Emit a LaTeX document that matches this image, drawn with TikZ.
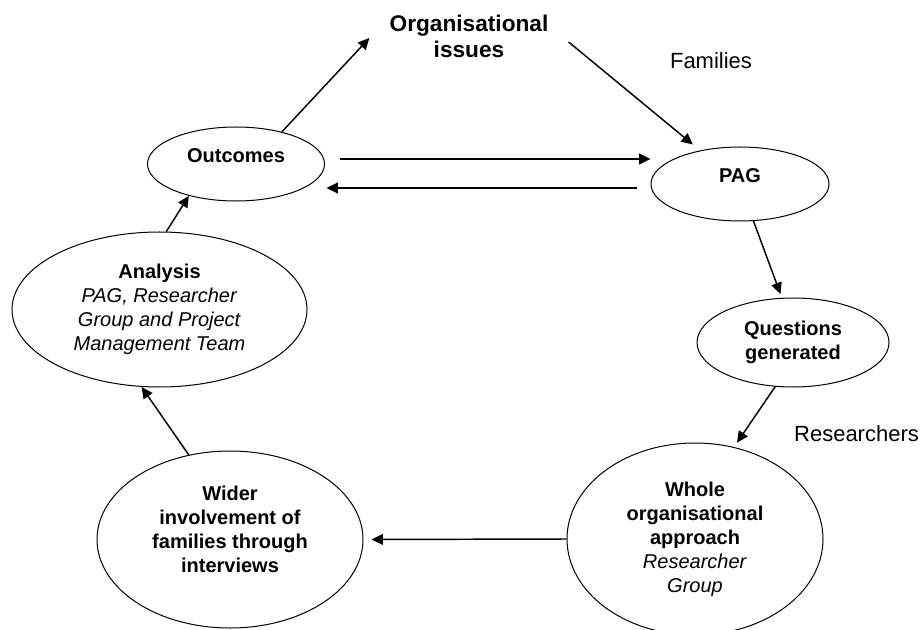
\documentclass[tikz,border=0pt]{standalone}
\usepackage{fontspec}
\setmainfont{Liberation Sans}
\usepackage{xcolor}
\usepackage{tikz}
\usetikzlibrary{positioning, arrows.meta, calc, shapes.geometric}

\begin{document}
\begin{tikzpicture}[x=0.75pt, y=-0.75pt,
    stage/.style={draw=black, line width=0.75pt, ellipse, inner sep=0pt, align=center,
                  font=\fontsize{15}{18}\selectfont},
    flow/.style={-{Triangle[length=8.5pt, width=8pt]}, line width=1.1pt},
    side/.style={inner sep=0pt, font=\fontsize{16.5}{19.5}\selectfont}]
    \useasboundingbox (0,0) rectangle (923,630);

    \node[inner xsep=15pt, inner ysep=0pt, align=center,
          font=\fontsize{17}{19.5}\selectfont\bfseries] (orgissues) at (469,36)
          {Organisational\\issues};
    \node[side] (families) at (711,61) {Families};
    \node[side] (researchers) at (856.5,434) {Researchers};

    \node[stage, minimum width=132.75pt, minimum height=55.5pt] (outcomes) at (236,164)
          {\raisebox{6pt}[\height][\depth]{\textbf{Outcomes}}};
    \node[stage, minimum width=133.5pt, minimum height=55.5pt] (pag) at (740,184)
          {\raisebox{6pt}[\height][\depth]{\textbf{PAG}}};
    \node[stage, minimum width=221.25pt, minimum height=116.25pt] (analysis) at (159.5,309.5)
          {\textbf{Analysis}\\ \textit{PAG, Researcher}\\ \textit{Group and Project}\\
           \textit{Management Team}};
    \node[stage, minimum width=144pt, minimum height=66.75pt] (questions) at (793,342.5)
          {\textbf{Questions}\\ \textbf{generated}};
    \node[stage, minimum width=192pt, minimum height=144pt] (whole) at (695,539)
          {\textbf{Whole}\\ \textbf{organisational}\\ \textbf{approach}\\
           \textit{Researcher}\\ \textit{Group}};
    \node[stage, minimum width=199.5pt, minimum height=132.75pt] (wider) at (230,539.5)
          {\raisebox{6pt}[\height][\depth]{\bfseries\begin{tabular}{@{}c@{}}
           Wider\\ involvement of\\ families through\\ interviews\end{tabular}}};

    \draw[flow] (outcomes.35) -- ([yshift=-1.5pt]orgissues.west);
    \draw[flow, shorten >=7pt] ([yshift=-4.5pt]orgissues.east) -- (pag.140);
    \draw[flow] ([xshift=11.6pt, yshift=3.75pt]outcomes.east) -- ([yshift=18.75pt]pag.west);
    \draw[flow] ([xshift=-10.5pt, yshift=-3pt]pag.west) -- ([xshift=1.1pt, yshift=-18pt]outcomes.east);
    \draw[flow, shorten >=3pt] (pag.-70) -- (questions.104);
    \draw[flow, shorten >=4pt] (questions.-112) -- (whole.67);
    \draw[flow, shorten >=6pt] (whole.west) -- (wider.east);
    \draw[flow] (wider.116) -- (analysis.-103);
    \draw[flow] (analysis.85) -- (outcomes.-146);
  \end{tikzpicture}
\end{document}
